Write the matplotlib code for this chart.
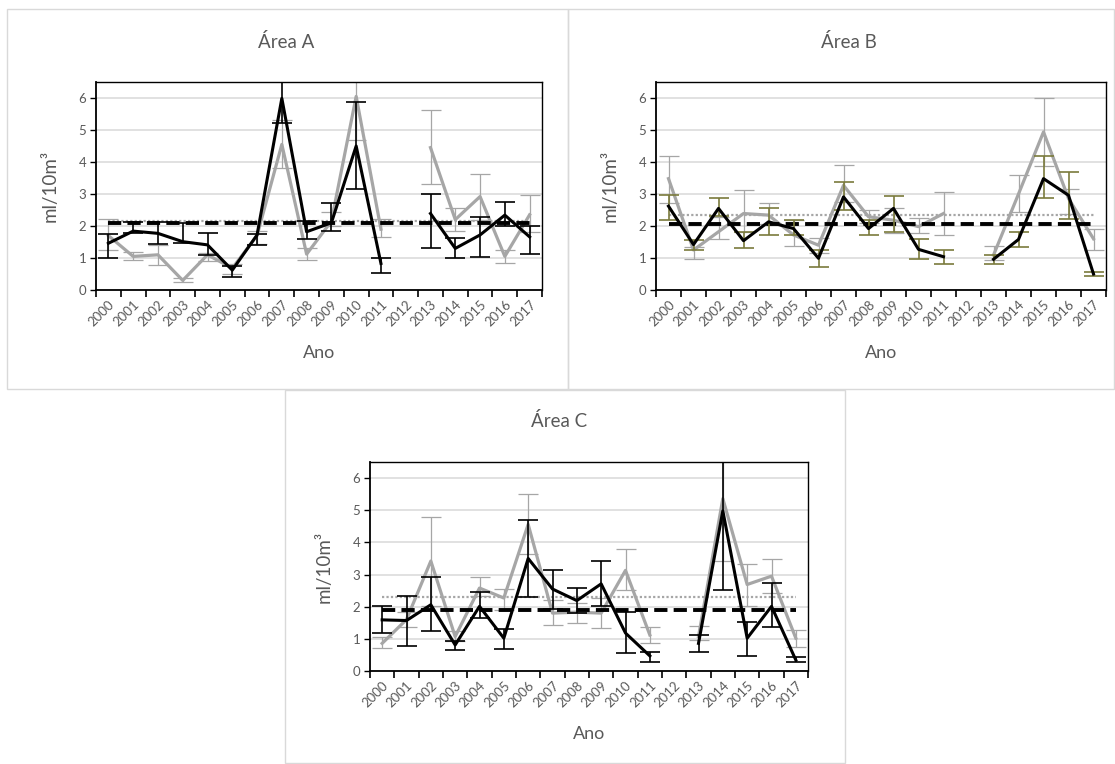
import numpy as np
import matplotlib
matplotlib.use('Agg')
import matplotlib.pyplot as plt
from matplotlib.patches import Rectangle

plt.rcParams['font.family'] = ['Lato', 'DejaVu Sans']

nan = np.nan
YEARS = [str(y) for y in range(2000, 2018)]

# Área A
a_black = [1.46, 1.84, 1.77, 1.51, 1.41, 0.62, 1.72, 5.99, 1.82, 2.10, 4.50, 0.83, nan, 2.39, 1.30, 1.72, 2.34, 1.66]
a_black_lo = [0.99, 1.77, 1.43, 1.46, 1.09, 0.42, 1.40, 5.23, 1.59, 1.85, 3.15, 0.54, nan, 1.30, 0.99, 1.03, 2.00, 1.11]
a_black_hi = [1.75, 2.12, 2.12, 2.08, 1.78, 0.75, 1.75, 7.00, 2.16, 2.72, 5.87, 0.99, nan, 3.01, 1.63, 2.27, 2.75, 2.00]
a_gray = [1.70, 1.05, 1.10, 0.30, 1.10, 0.68, 1.70, 4.55, 1.12, 2.15, 6.05, 1.90, nan, 4.45, 2.20, 2.92, 1.05, 2.35]
a_gray_lo = [1.25, 0.93, 0.78, 0.26, 0.92, 0.50, 1.45, 3.80, 0.95, 2.00, 4.68, 1.65, nan, 3.30, 1.85, 2.20, 0.83, 1.80]
a_gray_hi = [2.22, 1.20, 1.40, 0.36, 1.15, 0.82, 1.85, 5.30, 1.30, 2.45, 7.00, 2.22, nan, 5.62, 2.55, 3.62, 1.25, 2.97]
a_black_mean = 2.08
a_gray_mean = 2.15

# Área B
b_black = [2.62, 1.42, 2.55, 1.54, 2.13, 1.92, 0.99, 2.91, 1.92, 2.55, 1.27, 1.04, nan, 0.96, 1.58, 3.48, 2.96, 0.50]
b_black_lo = [2.18, 1.25, 2.30, 1.30, 1.72, 1.72, 0.73, 2.50, 1.72, 1.82, 0.96, 0.81, nan, 0.81, 1.35, 2.86, 2.23, 0.45]
b_black_hi = [2.98, 1.55, 2.86, 1.82, 2.55, 2.18, 1.25, 3.38, 2.18, 2.93, 1.58, 1.25, nan, 1.09, 1.82, 4.18, 3.69, 0.57]
b_gray = [3.48, 1.25, 1.82, 2.39, 2.34, 1.72, 1.40, 3.27, 2.29, 2.18, 1.98, 2.39, nan, 1.09, 3.00, 4.94, 2.86, 1.60]
b_gray_lo = [2.72, 0.96, 1.58, 1.82, 2.06, 1.37, 1.16, 2.75, 2.10, 1.79, 1.77, 1.72, nan, 0.94, 2.44, 3.88, 2.39, 1.25]
b_gray_hi = [4.18, 1.35, 2.29, 3.12, 2.72, 2.18, 1.64, 3.92, 2.50, 2.55, 2.24, 3.07, nan, 1.37, 3.59, 6.00, 3.17, 1.90]
b_black_mean = 2.07
b_gray_mean = 2.33

# Área C
c_black = [1.59, 1.57, 2.06, 0.81, 2.01, 1.02, 3.50, 2.55, 2.19, 2.71, 1.18, 0.47, nan, 0.86, 4.98, 1.02, 2.01, 0.34]
c_black_lo = [1.18, 0.79, 1.23, 0.66, 1.65, 0.69, 2.29, 1.94, 1.80, 2.01, 0.55, 0.29, nan, 0.60, 2.51, 0.47, 1.36, 0.29]
c_black_hi = [2.01, 2.32, 2.92, 0.92, 2.46, 1.30, 4.69, 3.14, 2.58, 3.42, 1.85, 0.60, nan, 1.13, 7.00, 1.52, 2.74, 0.43]
c_gray = [0.86, 1.60, 3.42, 1.07, 2.58, 2.27, 4.56, 1.80, 1.83, 1.80, 3.13, 1.12, nan, 1.07, 5.36, 2.69, 2.95, 1.02]
c_gray_lo = [0.71, 1.37, 2.01, 0.92, 2.32, 1.90, 3.63, 1.44, 1.49, 1.33, 2.51, 0.86, nan, 0.97, 3.42, 2.03, 2.43, 0.76]
c_gray_hi = [1.07, 1.85, 4.80, 1.23, 2.92, 2.56, 5.50, 2.22, 2.11, 2.27, 3.80, 1.36, nan, 1.41, 7.00, 3.33, 3.47, 1.28]
c_black_mean = 1.91
c_gray_mean = 2.30

GRAY = '#a6a6a6'
TEXT = '#595959'
W, H = 1115, 764


def fig_rect(left, top, right, bottom):
    """Pixel box (top-left origin) -> figure fraction [x, y, w, h]."""
    return [left / W, 1 - bottom / H, (right - left) / W, (bottom - top) / H]


def draw_panel(ax, black, black_lo, black_hi, gray, gray_lo, gray_hi,
               black_mean, gray_mean, black_err_color='black'):
    x = np.arange(len(YEARS))
    black = np.array(black)
    gray = np.array(gray)
    g_err = [gray - np.array(gray_lo), np.array(gray_hi) - gray]
    b_err = [black - np.array(black_lo), np.array(black_hi) - black]

    ax.grid(axis='y', color='#d9d9d9', linewidth=1.1, zorder=0)
    ax.set_axisbelow(True)

    ax.errorbar(x, gray, yerr=g_err, color=GRAY, lw=2.3, ecolor=GRAY,
                elinewidth=0.9, capsize=7, capthick=0.9, zorder=2)
    ax.plot([0, len(YEARS) - 1], [gray_mean] * 2, color=GRAY, lw=1.6,
            linestyle=(0, (1, 1)), zorder=3)
    ax.plot([0, len(YEARS) - 1], [black_mean] * 2, color='black', lw=2.8,
            linestyle=(0, (3.4, 1.6)), zorder=3)
    ax.errorbar(x, black, yerr=b_err, color='black', lw=2.2, ecolor=black_err_color,
                elinewidth=1.2, capsize=7, capthick=1.2, zorder=4)

    ax.set_xlim(-0.5, len(YEARS) - 0.5)
    ax.set_ylim(0, 6.5)
    ax.set_yticks(range(0, 7))
    ax.set_xticks(x)
    ax.set_xticklabels(YEARS, rotation=45, ha='right', va='top',
                       rotation_mode='anchor', fontsize=9.5, color=TEXT)
    ax.set_xticks(np.arange(-0.5, len(YEARS)), minor=True)
    ax.tick_params(axis='x', which='major', length=0, pad=6)
    ax.tick_params(axis='x', which='minor', length=5, width=1.2, color='black')
    ax.tick_params(axis='y', length=4, width=1.0, labelsize=9.5, labelcolor=TEXT, pad=3)
    for side in ['left', 'bottom']:
        ax.spines[side].set_linewidth(1.3)
    for side in ['top', 'right']:
        ax.spines[side].set_linewidth(1.0)
    ax.set_ylabel('ml/10m³', fontsize=13.5, color=TEXT, labelpad=14)
    ax.set_xlabel('Ano', fontsize=13, color=TEXT, labelpad=12)


fig = plt.figure(figsize=(W / 100, H / 100), dpi=100)

# panel frames
for (l, t, r, b) in [(7, 9, 568, 389), (568, 9, 1114, 389), (285, 390, 845, 763)]:
    fig.patches.append(Rectangle((l / W, 1 - b / H), (r - l) / W, (b - t) / H,
                                 transform=fig.transFigure, fill=False,
                                 edgecolor='#d9d9d9', linewidth=1.0))

ax_a = fig.add_axes(fig_rect(96, 82, 542, 290))
draw_panel(ax_a, a_black, a_black_lo, a_black_hi, a_gray, a_gray_lo, a_gray_hi,
           a_black_mean, a_gray_mean)
fig.text(286 / W, 1 - 42 / H, 'Área A', ha='center', va='center', fontsize=13.5, color=TEXT)

ax_b = fig.add_axes(fig_rect(656, 82, 1106, 290))
draw_panel(ax_b, b_black, b_black_lo, b_black_hi, b_gray, b_gray_lo, b_gray_hi,
           b_black_mean, b_gray_mean, black_err_color='#7a7a3c')
fig.text(849 / W, 1 - 42 / H, 'Área B', ha='center', va='center', fontsize=13.5, color=TEXT)

ax_c = fig.add_axes(fig_rect(370, 462, 808, 671))
draw_panel(ax_c, c_black, c_black_lo, c_black_hi, c_gray, c_gray_lo, c_gray_hi,
           c_black_mean, c_gray_mean)
fig.text(559 / W, 1 - 421 / H, 'Área C', ha='center', va='center', fontsize=13.5, color=TEXT)

fig.savefig('out.png', dpi=100)
